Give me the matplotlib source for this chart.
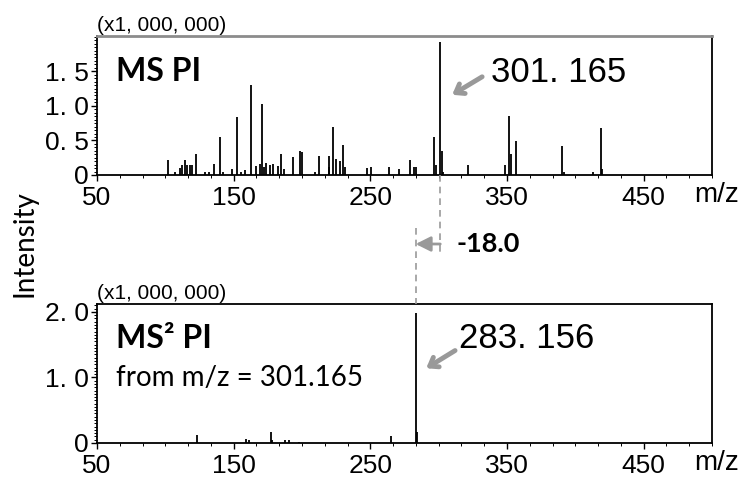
import matplotlib
matplotlib.use("Agg")
import matplotlib.pyplot as plt
from matplotlib import font_manager
from matplotlib.ticker import MultipleLocator, FixedLocator, FixedFormatter
from matplotlib.transforms import blended_transform_factory
from matplotlib.lines import Line2D

# ---------------- data ----------------
ms1_mz = [101.6, 107.0, 110.6, 112.5, 114.2, 116.0, 118.0, 119.5, 122.7, 128.8,
          132.0, 135.9, 139.8, 142.2, 149.0, 152.7, 155.0, 158.6, 162.9, 166.6,
          169.5, 170.7, 171.9, 173.9, 176.8, 178.8, 182.7, 184.8, 186.5, 193.6,
          198.7, 199.7, 209.4, 212.8, 219.4, 220.1, 222.8, 224.7, 227.6, 230.1,
          231.3, 247.6, 250.8, 263.6, 270.7, 279.0, 282.1, 283.2, 296.7, 298.0,
          301.165, 302.2, 303.0, 321.5, 348.5, 351.7, 352.6, 356.6, 390.6, 391.5,
          412.8, 418.6, 419.5]
ms1_int = [0.22, 0.05, 0.10, 0.14, 0.22, 0.15, 0.15, 0.15, 0.31, 0.05,
           0.05, 0.16, 0.555, 0.05, 0.08, 0.845, 0.05, 0.07, 1.30, 0.13,
           0.16, 1.03, 0.11, 0.18, 0.15, 0.16, 0.13, 0.30, 0.08, 0.26,
           0.35, 0.33, 0.05, 0.27, 0.11, 0.27, 0.70, 0.23, 0.20, 0.43,
           0.12, 0.10, 0.12, 0.11, 0.09, 0.22, 0.12, 0.12, 0.555, 0.15,
           1.93, 0.35, 0.05, 0.15, 0.14, 0.855, 0.30, 0.49, 0.425, 0.05,
           0.04, 0.68, 0.09]

ms2_mz = [123.0, 159.0, 161.2, 177.0, 178.4, 187.5, 190.2, 198.0, 265.0, 283.156, 284.2]
ms2_int = [0.124, 0.06, 0.04, 0.17, 0.05, 0.05, 0.05, 0.02, 0.11, 1.98, 0.17]

x_major = [50, 150, 250, 350, 450]
x_labels = ["50", "150", "250", "350", "450"]
y1_major = [0, 0.5, 1.0, 1.5]
y1_labels = ["0", "0. 5", "1. 0", "1. 5"]
y2_major = [0, 1.0, 2.0]
y2_labels = ["0", "1. 0", "2. 0"]

precursor_mz = 301.165
product_mz = 283.156

# ---------------- fonts ----------------
avail = {f.name for f in font_manager.fontManager.ttflist}
NUM_FONT = [f for f in ["Liberation Sans Narrow", "Liberation Sans", "DejaVu Sans"] if f in avail]
TXT_FONT = [f for f in ["Lato", "DejaVu Sans"] if f in avail]

fig = plt.figure(figsize=(7.39, 4.80), dpi=100)
W, H = 739.0, 480.0

def fx(px):
    return px / W

def fy(py):
    return 1 - py / H

ax1 = fig.add_axes([fx(97), fy(175), fx(712) - fx(97), fy(36) - fy(175)])
ax2 = fig.add_axes([fx(97), fy(443), fx(712) - fx(97), fy(304) - fy(443)])

for ax, mz, inten, ymax, yt, yl in [(ax1, ms1_mz, ms1_int, 2.01, y1_major, y1_labels),
                                    (ax2, ms2_mz, ms2_int, 2.12, y2_major, y2_labels)]:
    ax.vlines(mz, 0, inten, colors="black", linewidth=1.3)
    ax.set_xlim(50, 500)
    ax.set_ylim(0, ymax)
    ax.xaxis.set_major_locator(FixedLocator(x_major))
    ax.xaxis.set_major_formatter(FixedFormatter(x_labels))
    ax.xaxis.set_minor_locator(MultipleLocator(50 / 3))
    ax.yaxis.set_major_locator(FixedLocator(yt))
    ax.yaxis.set_major_formatter(FixedFormatter(yl))
    ax.yaxis.set_minor_locator(MultipleLocator(0.05))
    ax.tick_params(axis="both", which="major", direction="out", length=4, width=1.0,
                   labelsize=19, pad=2, colors="black")
    ax.tick_params(axis="x", which="major", pad=4)
    ax.tick_params(axis="both", which="minor", direction="out", length=2.5, width=0.7)
    for lab in ax.get_xticklabels() + ax.get_yticklabels():
        lab.set_family(NUM_FONT)
    for s in ax.spines.values():
        s.set_linewidth(1.3)
        s.set_color("black")
    ax.text(fx(717), -0.145, "m/z", transform=blended_transform_factory(fig.transFigure, ax.transAxes),
            ha="center", va="center", fontsize=20, family=NUM_FONT)
    ax.text(0.0, 1.01, "(x1, 000, 000)", transform=ax.transAxes, ha="left", va="bottom",
            fontsize=15, family=NUM_FONT)

ax1.spines["top"].set_color("#8c8c8c")
ax1.spines["top"].set_linewidth(2)

# panel labels
ax1.text(0.031, 0.745, "MS PI", transform=ax1.transAxes, ha="left", va="center",
         fontsize=23, fontweight="bold", family=TXT_FONT)
ax2.text(0.031, 0.755, "MS\u00b2 PI", transform=ax2.transAxes, ha="left", va="center",
         fontsize=23, fontweight="bold", family=TXT_FONT)
ax2.text(0.031, 0.47, "from m/z = 301.165", transform=ax2.transAxes, ha="left", va="center",
         fontsize=20, family=TXT_FONT)

# peak annotations
ax1.annotate("", xy=(309.9, 1.16), xytext=(331.8, 1.42),
             arrowprops=dict(arrowstyle="->,head_length=0.55,head_width=0.4", color="#999999",
                             lw=3.5, capstyle="round", shrinkA=0, shrinkB=0))
ax1.text(338.3, 1.485, "301. 165", ha="left", va="center", fontsize=25, family=NUM_FONT)
ax2.annotate("", xy=(290.9, 1.14), xytext=(312.0, 1.41),
             arrowprops=dict(arrowstyle="->,head_length=0.55,head_width=0.4", color="#999999",
                             lw=3.5, capstyle="round", shrinkA=0, shrinkB=0))
ax2.text(315.0, 1.59, "283. 156", ha="left", va="center", fontsize=25, family=NUM_FONT)

# neutral-loss indicator
t1 = blended_transform_factory(ax1.transData, fig.transFigure)
fig.add_artist(Line2D([precursor_mz, precursor_mz], [fy(175), fy(252)], transform=t1,
                      color="#999999", lw=1.2, linestyle=(0, (4, 3))))
fig.add_artist(Line2D([product_mz, product_mz], [fy(228), fy(304)], transform=t1,
                      color="#999999", lw=1.2, linestyle=(0, (4, 3))))
ax1.annotate("", xy=(product_mz, fy(244)), xytext=(precursor_mz, fy(244)),
             xycoords=t1, textcoords=t1, annotation_clip=False,
             arrowprops=dict(arrowstyle="-|>,head_length=0.9,head_width=0.45", color="#999999",
                             lw=2, shrinkA=0, shrinkB=0))
fig.text(fx(456), fy(244), "-18.0", ha="left", va="center", fontsize=19.5,
         fontweight="bold", family=TXT_FONT)

fig.text(fx(25), fy(244), "Intensity", rotation=90, ha="center", va="center",
         fontsize=20, family=TXT_FONT)

fig.savefig("out.png", dpi=100)
